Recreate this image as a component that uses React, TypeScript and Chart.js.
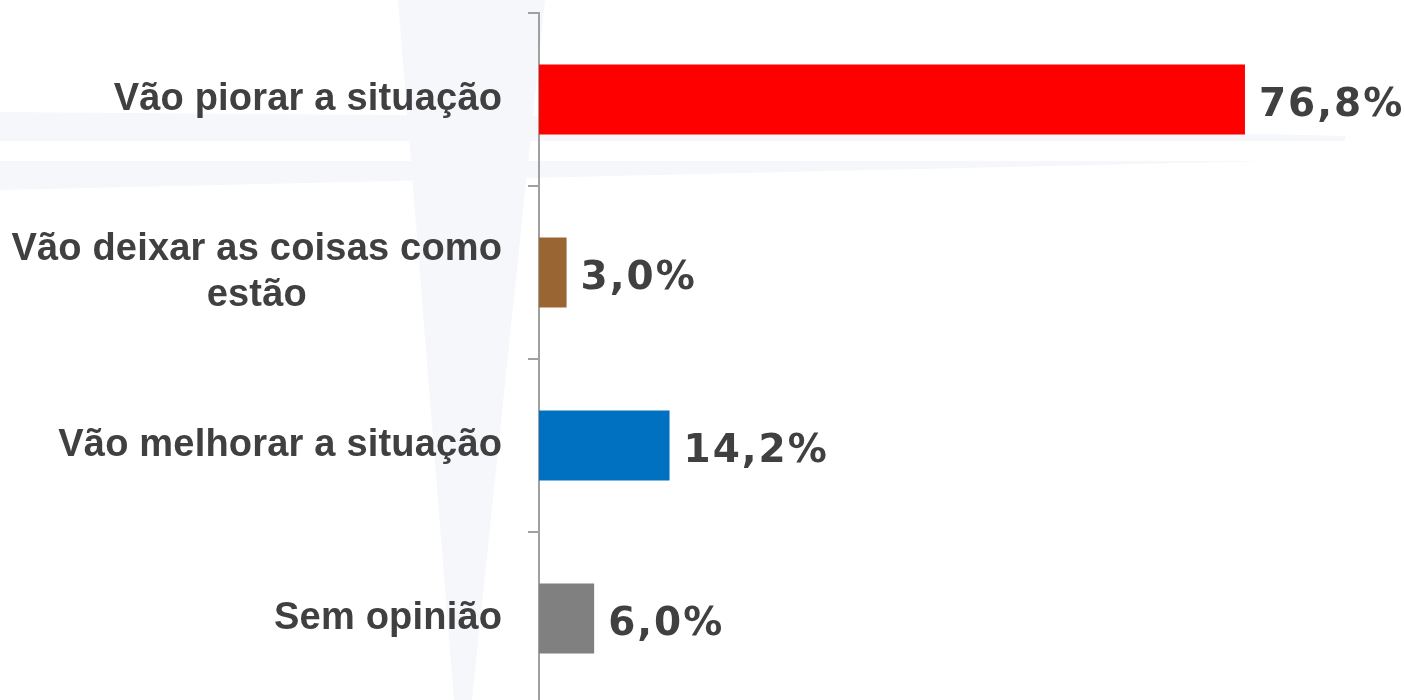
import React, { useEffect, useRef } from "react";
import { Chart, registerables } from "chart.js";

Chart.register(...registerables);

const categories: (string | string[])[] = [
  "Vão piorar a situação",
  ["Vão deixar as coisas como", "estão"],
  "Vão melhorar a situação",
  "Sem opinião",
];
const values = [76.8, 3.0, 14.2, 6.0];
const barColors = ["#FF0000", "#996633", "#0070C0", "#808080"];

const TEXT_COLOR = "#404040";
const AXIS_COLOR = "#a0a0a0";

const watermarkPlugin = {
  id: "watermark",
  beforeDraw(chart: any) {
    const { ctx } = chart;
    ctx.save();
    ctx.fillStyle = "#f6f7fb";
    // vertical beam of the faint compass-star watermark
    ctx.beginPath();
    ctx.moveTo(398, 0);
    ctx.lineTo(545, 0);
    ctx.lineTo(472, 700);
    ctx.lineTo(454, 700);
    ctx.closePath();
    ctx.fill();
    // upper horizontal band
    ctx.beginPath();
    ctx.moveTo(0, 112);
    ctx.lineTo(520, 116);
    ctx.lineTo(1345, 136);
    ctx.lineTo(1345, 141);
    ctx.lineTo(0, 141);
    ctx.closePath();
    ctx.fill();
    // lower horizontal band
    ctx.beginPath();
    ctx.moveTo(0, 161);
    ctx.lineTo(1270, 161);
    ctx.lineTo(0, 190);
    ctx.closePath();
    ctx.fill();
    ctx.restore();
  },
};

const categoryLabelPlugin = {
  id: "categoryLabels",
  afterDraw(chart: any) {
    const { ctx } = chart;
    const yScale = chart.scales.y;
    const spacing = 0.2;
    const lineHeight = 46;
    ctx.save();
    ctx.font = "bold 38px 'Liberation Sans', Arial, sans-serif";
    (ctx as any).letterSpacing = spacing + "px";
    ctx.fillStyle = TEXT_COLOR;
    ctx.textBaseline = "middle";
    ctx.textAlign = "left";
    const rightX = yScale.right - 37;
    categories.forEach((label, i) => {
      const lines = Array.isArray(label) ? label : [label];
      const y = yScale.getPixelForValue(i);
      const widths = lines.map((l) => ctx.measureText(l).width - spacing);
      const widest = Math.max(...widths);
      const centerX = rightX - widest / 2;
      const startY = y - ((lines.length - 1) * lineHeight) / 2;
      lines.forEach((l, j) => {
        const x = lines.length === 1 ? rightX - widths[j] : centerX - widths[j] / 2;
        ctx.fillText(l, x, startY + j * lineHeight);
      });
    });
    ctx.restore();
  },
};

const valueLabelPlugin = {
  id: "valueLabels",
  afterDatasetsDraw(chart: any) {
    const { ctx } = chart;
    const meta = chart.getDatasetMeta(0);
    ctx.save();
    ctx.font = "bold 39px 'DejaVu Sans', sans-serif";
    (ctx as any).letterSpacing = "2px";
    ctx.fillStyle = TEXT_COLOR;
    ctx.textBaseline = "alphabetic";
    ctx.textAlign = "left";
    meta.data.forEach((bar: any, i: number) => {
      const txt = values[i].toFixed(1).replace(".", ",") + "%";
      ctx.fillText(txt, bar.x + 14, bar.y + 16.5);
    });
    ctx.restore();
  },
};

export default function App() {
  const canvasRef = useRef<HTMLCanvasElement | null>(null);

  useEffect(() => {
    document.body.style.margin = "0";
    document.body.style.overflow = "hidden";
    const canvas = canvasRef.current;
    if (!canvas) return;
    const chart = new Chart(canvas, {
      type: "bar",
      data: {
        labels: categories as any,
        datasets: [
          {
            data: values,
            backgroundColor: barColors,
            borderWidth: 0,
            categoryPercentage: 1,
            barPercentage: 0.405,
          },
        ],
      },
      options: {
        indexAxis: "y",
        animation: false,
        responsive: false,
        devicePixelRatio: 1,
        layout: { padding: { top: 13, right: 0, bottom: 0, left: 0 } },
        plugins: {
          legend: { display: false },
          tooltip: { enabled: false },
          title: { display: false },
        },
        scales: {
          x: {
            display: false,
            min: 0,
            max: 94.1,
          },
          y: {
            type: "category",
            offset: true,
            ticks: { display: false },
            grid: {
              display: true,
              offset: true,
              drawOnChartArea: false,
              drawTicks: true,
              tickLength: 11,
              color: AXIS_COLOR,
              lineWidth: 2,
            },
            border: { display: true, color: AXIS_COLOR, width: 2 },
            afterFit(scale: any) {
              scale.width = 539;
            },
          },
        },
      },
      plugins: [watermarkPlugin, valueLabelPlugin, categoryLabelPlugin],
    });
    return () => chart.destroy();
  }, []);

  return (
    <div style={{ position: "fixed", left: 0, top: 0, width: 1404, height: 705, background: "#ffffff" }}>
      <canvas ref={canvasRef} width={1404} height={705} style={{ display: "block" }} />
    </div>
  );
}
